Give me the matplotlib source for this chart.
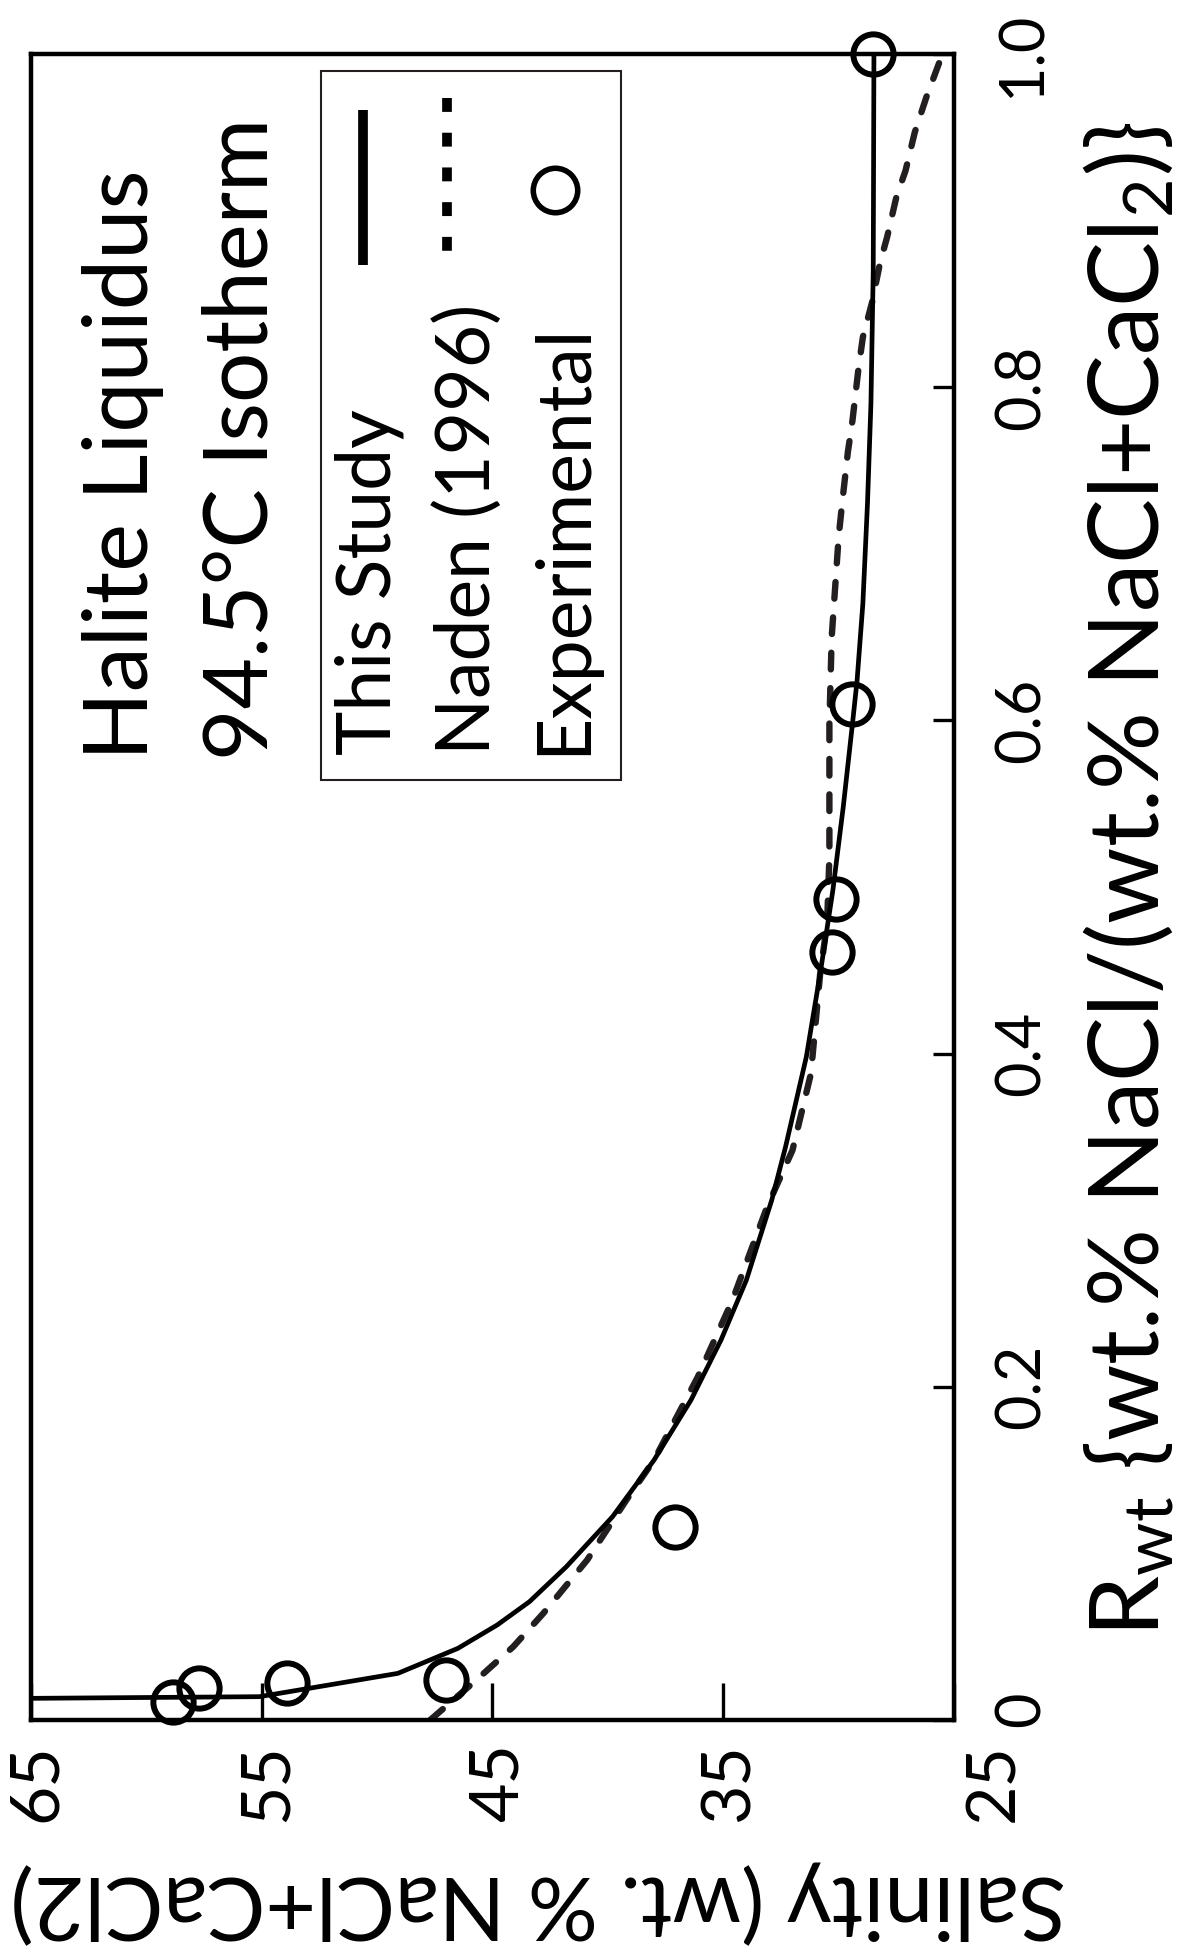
import matplotlib
matplotlib.use('Agg')
import matplotlib.pyplot as plt
from matplotlib.lines import Line2D
from matplotlib.patches import Rectangle
from matplotlib.transforms import blended_transform_factory, offset_copy

plt.rcParams['font.family'] = ['Lato', 'DejaVu Sans']
plt.rcParams['mathtext.fontset'] = 'custom'
plt.rcParams['mathtext.rm'] = 'Lato'
plt.rcParams['mathtext.default'] = 'regular'
plt.rcParams['lines.scale_dashes'] = False

# This Study (solid line): salinity vs Rwt
sal_this = [65.0, 55.1, 49.1, 46.5, 44.8, 43.4, 41.8, 39.8, 38.0, 36.4, 35.1, 34.0,
            32.9, 32.3, 31.4, 30.8, 30.25, 29.8, 29.4, 29.2, 28.95, 28.75, 28.6, 28.5, 28.47]
r_this = [0.013, 0.014, 0.028, 0.043, 0.057, 0.071, 0.092, 0.122, 0.156, 0.192, 0.228, 0.264,
          0.312, 0.344, 0.398, 0.448, 0.498, 0.548, 0.598, 0.624, 0.670, 0.730, 0.790, 0.870, 1.0]

# Naden (1996) (dashed line)
sal_naden = [47.7, 45.7, 44.1, 42.8, 40.9, 39.2, 38.0, 36.1, 34.6, 33.1, 32.0, 31.2, 30.8,
             30.5, 30.4, 30.4, 30.4, 30.35, 30.3, 30.15, 30.0, 29.85, 29.6, 29.4, 29.15,
             28.95, 28.55, 28.2, 27.9, 27.5, 27.1, 26.7, 26.2, 25.5]
r_naden = [0.0, 0.024, 0.044, 0.064, 0.096, 0.132, 0.156, 0.206, 0.252, 0.308, 0.342, 0.388,
           0.448, 0.478, 0.518, 0.558, 0.598, 0.624, 0.650, 0.680, 0.710, 0.730, 0.761, 0.780,
           0.810, 0.830, 0.851, 0.875, 0.890, 0.914, 0.930, 0.953, 0.974, 1.0]

# Experimental points
sal_exp = [58.85, 57.7, 53.9, 47.0, 37.1, 30.3, 30.1, 29.4, 28.5]
r_exp = [0.011, 0.019, 0.022, 0.024, 0.116, 0.461, 0.493, 0.610, 1.0]

sal_ticks = [65, 55, 45, 35, 25]
sal_labels = ['65', '55', '45', '35', '25']
r_ticks = [0, 0.2, 0.4, 0.6, 0.8, 1.0]
r_labels = ['0', '0.2', '0.4', '0.6', '0.8', '1.0']

W, H = 1183, 1955


def fx(px):
    return px / W


def fy(py):
    return 1 - py / H


fig = plt.figure(figsize=(W / 100, H / 100), dpi=100)
ax = fig.add_axes([fx(31), fy(1720), 923 / W, 1666 / H])

# curves (figure is drawn rotated 90 degrees, salinity runs along x)
ax.plot(sal_naden, r_naden, color='#231f20', lw=4.6, dashes=(12, 13.5),
        dash_capstyle='round')
ax.plot(sal_this, r_this, color='black', lw=3.4, solid_joinstyle='round')
ax.plot(sal_exp, r_exp, 'o', ms=29, mfc='none', mec='black', mew=4.3,
        clip_on=False, zorder=5)

ax.set_xlim(65, 25)
ax.set_ylim(0, 1)
for sp in ax.spines.values():
    sp.set_linewidth(3.2)

ax.set_xticks(sal_ticks)
ax.set_yticks(r_ticks)
ax.xaxis.set_ticks_position('bottom')
ax.yaxis.set_ticks_position('right')
ax.tick_params(axis='x', direction='in', length=27, width=2.4, labelbottom=False)
ax.tick_params(axis='y', direction='in', length=15, width=2.4,
               labelright=False, labelleft=False)

# tick labels, rotated like the rest of the figure
xt = blended_transform_factory(ax.transData, ax.transAxes)
for v, lab in zip(sal_ticks, sal_labels):
    dx = 25 + (34 if v == 25 else 0)
    ax.text(v, 0, lab, transform=offset_copy(xt, x=dx, y=-23, units='dots'),
            rotation=90, rotation_mode='anchor', ha='right', va='baseline',
            fontsize=49, clip_on=False)

yt = blended_transform_factory(ax.transAxes, ax.transData)
for v, lab in zip(r_ticks, r_labels):
    dy = 11 if v == 0 else 0
    ax.text(1, v, lab, transform=offset_copy(yt, x=86, y=dy, units='dots'),
            rotation=90, rotation_mode='anchor', ha='center', va='baseline',
            fontsize=44, clip_on=False)

# axis labels
fig.text(fx(1160), fy(1637), r'R$_{wt}$ {wt.% NaCl/(wt.% NaCl+CaCl$_{2}$)}',
         rotation=90, rotation_mode='anchor', ha='left', va='baseline', fontsize=70)
fig.text(fx(1066), fy(1875), 'Salinity (wt. % NaCl+CaCl2)',
         rotation=180, rotation_mode='anchor', ha='left', va='baseline', fontsize=63)

# title
fig.text(fx(148), fy(760), 'Halite Liquidus', rotation=90, rotation_mode='anchor',
         ha='left', va='baseline', fontsize=65)
fig.text(fx(267), fy(760), '94.5°C Isotherm', rotation=90, rotation_mode='anchor',
         ha='left', va='baseline', fontsize=64)

# legend drawn by hand (rotated)
fig.add_artist(Rectangle((fx(321), fy(780)), 300 / W, 709 / H, transform=fig.transFigure,
                         fill=False, lw=1.5, ec='#231f20'))
fig.add_artist(Line2D([fx(363), fx(363)], [fy(110), fy(265)], transform=fig.transFigure,
                      color='black', lw=7, solid_capstyle='butt'))
fig.add_artist(Line2D([fx(447), fx(447)], [fy(98), fy(253)], transform=fig.transFigure,
                      color='black', lw=7, dashes=(10, 15), dash_capstyle='butt'))
fig.add_artist(Line2D([fx(555)], [fy(190)], transform=fig.transFigure, marker='o',
                      ms=32, mfc='none', mec='black', mew=4.0, ls='none'))
for xb, lab in [(390, 'This Study'), (490, 'Naden (1996)'), (585, 'Experimental')]:
    fig.text(fx(xb), fy(755), lab, rotation=90, rotation_mode='anchor',
             ha='left', va='baseline', fontsize=54)

fig.savefig('out.png', dpi=100)
